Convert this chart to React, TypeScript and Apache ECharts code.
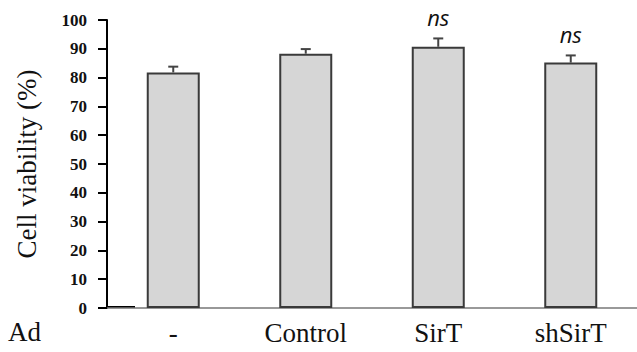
import React, { useEffect, useRef } from "react";
import * as echarts from "echarts";

const categories = ["-", "Control", "SirT", "shSirT"];
const viability = [81.8, 88.3, 90.7, 85.2];
const errorUpper = [2.0, 1.6, 2.9, 2.5];
const sigLabels = ["", "", "ns", "ns"];
const yTicks = { min: 0, max: 100, interval: 10 };

export default function App() {
  const ref = useRef<HTMLDivElement>(null);
  useEffect(() => {
    if (!ref.current) return;
    const chart = echarts.init(ref.current, null, { renderer: "svg" });
    const errData = viability.map((v, i) => [i, v, v + errorUpper[i], sigLabels[i]]);
    chart.setOption({
      animation: false,
      backgroundColor: "#ffffff",
      grid: { left: 107, right: -3, top: 20, bottom: 44, containLabel: false },
      xAxis: {
        type: "category",
        data: categories,
        axisLine: { show: true, lineStyle: { color: "#777777", width: 1.5 } },
        axisTick: { show: false },
        axisLabel: {
          color: "#111111",
          fontFamily: "Liberation Serif",
          fontSize: 27,
          margin: 11,
        },
      },
      yAxis: {
        type: "value",
        min: yTicks.min,
        max: yTicks.max,
        interval: yTicks.interval,
        name: "Cell viability (%)",
        nameLocation: "middle",
        nameRotate: 90,
        nameGap: 67,
        nameTextStyle: { color: "#111111", fontFamily: "Liberation Serif", fontSize: 27 },
        axisLine: { show: true, lineStyle: { color: "#000000", width: 2 } },
        axisTick: { show: true, length: 9, lineStyle: { color: "#000000", width: 2 } },
        axisLabel: {
          color: "#111111",
          fontFamily: "Liberation Serif",
          fontWeight: "bold",
          fontSize: 17,
          margin: 20,
        },
        splitLine: { show: false },
      },
      graphic: [
        {
          type: "text",
          left: 8,
          top: 318,
          style: { text: "Ad", font: "27px 'Liberation Serif'", fill: "#111111" },
        },
        {
          type: "line",
          shape: { x1: 107, y1: 307, x2: 135, y2: 307 },
          style: { stroke: "#000000", lineWidth: 2 },
        },
      ],
      series: [
        {
          type: "bar",
          data: viability,
          barWidth: "40%",
          itemStyle: { color: "#d6d6d6", borderColor: "#3a3a3a", borderWidth: 2 },
        },
        {
          type: "custom",
          data: errData,
          z: 5,
          renderItem: (params: any, api: any) => {
            const top = api.coord([api.value(0), api.value(1)]);
            const hi = api.coord([api.value(0), api.value(2)]);
            const label = sigLabels[params.dataIndex];
            const cap = 5;
            const children: any[] = [
              {
                type: "line",
                shape: { x1: hi[0], y1: top[1], x2: hi[0], y2: hi[1] },
                style: { stroke: "#444444", lineWidth: 2 },
              },
              {
                type: "line",
                shape: { x1: hi[0] - cap, y1: hi[1], x2: hi[0] + cap, y2: hi[1] },
                style: { stroke: "#444444", lineWidth: 2 },
              },
            ];
            if (label) {
              children.push({
                type: "text",
                style: {
                  text: label,
                  x: hi[0],
                  y: hi[1] - 21,
                  align: "center",
                  verticalAlign: "middle",
                  font: "italic 22px 'Open Sans'",
                  fill: "#111111",
                },
              });
            }
            return { type: "group", children };
          },
        },
      ],
    });
    return () => chart.dispose();
  }, []);
  return <div ref={ref} style={{ width: 637, height: 352, position: "absolute", left: 0, top: 0 }} />;
}
